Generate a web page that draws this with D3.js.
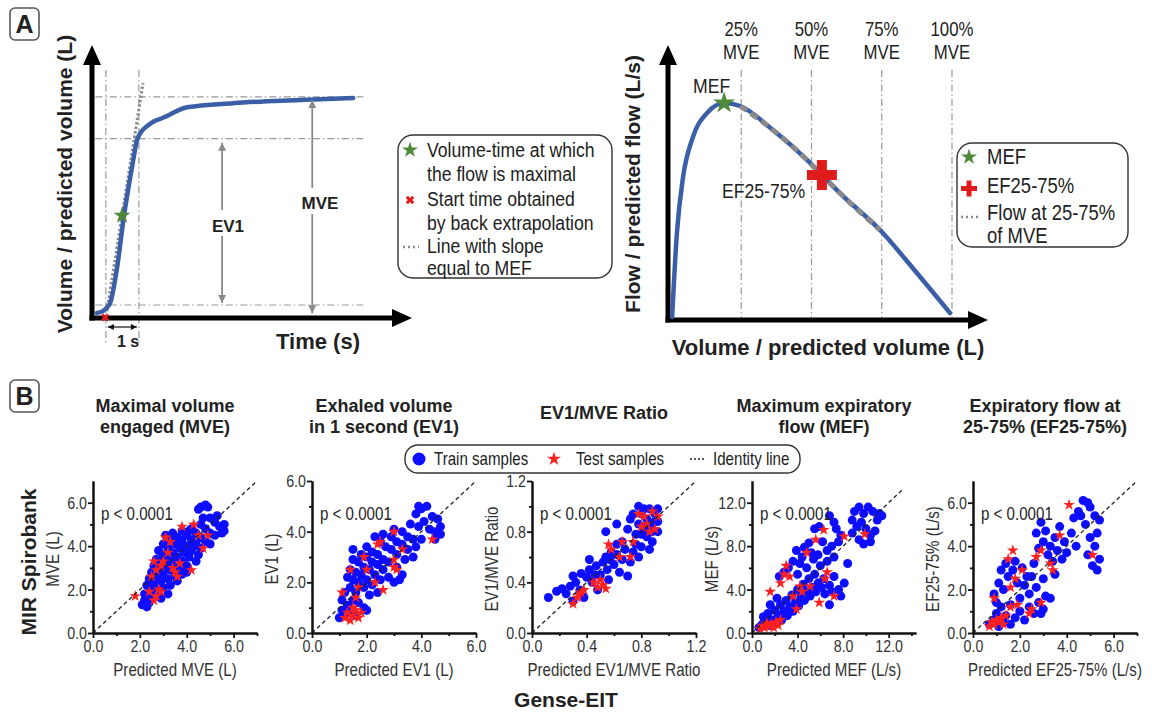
<!DOCTYPE html>
<html>
<head>
<meta charset="utf-8">
<script src="https://cdn.jsdelivr.net/npm/d3@7"></script>
<style>
  body { margin: 0; background: #fff; }
  svg { display: block; }
</style>
</head>
<body>
<svg id="fig" width="1152" height="714"></svg>
<script>
// ---------- Panel A data ----------
// volume-time curve: [time (s), volume / MVE]
const volumeTime = [
  [0.15, -0.038], [0.33, -0.029], [0.55, 0.01], [0.76, 0.18], [0.97, 0.43],
  [1.21, 0.66], [1.36, 0.79], [1.48, 0.83], [1.67, 0.86], [1.91, 0.885],
  [2.15, 0.90], [2.88, 0.95], [4.27, 0.97], [6.30, 0.985], [7.91, 0.995]
];
const slopeLine = [[0.45, -0.03], [1.545, 1.067]];
const refTimes = [0.42, 1.42];      // back-extrapolated start, start + 1 s
const refVolumes = [0, 0.8, 1.0];   // baseline, EV1, MVE
const ev1Arrow = { t: 3.94, from: 0.78, to: 0.01 };
const mveArrow = { t: 6.67, from: 0.985, to: -0.04 };
const maxFlowPoint = [0.91, 0.43];
const startPoint = [0.40, -0.06];

// flow-volume curve: [volume / MVE, flow / MEF]
const flowVolume = [
  [0.004, 0.005], [0.021, 0.395], [0.043, 0.656], [0.078, 0.842], [0.128, 0.953],
  [0.189, 1.0], [0.246, 0.986], [0.363, 0.874], [0.484, 0.735], [0.537, 0.665],
  [0.601, 0.581], [0.744, 0.409], [0.875, 0.209], [0.993, 0.023]
];
const mveFractions = [0.25, 0.5, 0.75, 1.0];
const mveFractionLabels = ["25%", "50%", "75%", "100%"];
const mefPoint = [0.189, 1.0];
const ef2575Point = [0.537, 0.665];

// ---------- Panel B data ----------
const panelTitles = [
  ["Maximal volume", "engaged (MVE)"],
  ["Exhaled volume", "in 1 second (EV1)"],
  ["EV1/MVE Ratio"],
  ["Maximum expiratory", "flow (MEF)"],
  ["Expiratory flow at", "25-75% (EF25-75%)"]
];
const yLabels = ["MVE (L)", "EV1 (L)", "EV1/MVE Ratio", "MEF (L/s)", "EF25-75% (L/s)"];
const xLabels = ["Predicted MVE (L)", "Predicted EV1 (L)", "Predicted EV1/MVE Ratio", "Predicted MEF (L/s)", "Predicted EF25-75% (L/s)"];
const axisMax = [[7, 7], [6, 6], [1.2, 1.2], [14.4, 14], [7, 7]];
const identityMax = [7, 6, 1.2, 13.2, 7];
const majorTicks = [[0, 2, 4, 6], [0, 2, 4, 6], [0, 0.4, 0.8, 1.2], [0, 4, 8, 12], [0, 2, 4, 6]];
const minorTicks = [[1, 3, 5, 7], [1, 3, 5], [0.2, 0.6, 1.0], [2, 6, 10, 14], [1, 3, 5, 7]];

const trainMVE = [
  [2.1,1.3],[2.2,1.5],[2.3,1.2],[2.2,1.8],[2.4,1.6],[2.5,2.0],[2.3,2.2],[2.6,1.7],[2.4,2.5],[2.6,2.3],
  [2.7,2.0],[2.8,1.8],[2.5,2.8],[2.7,2.6],[2.9,2.4],[3.0,2.1],[2.6,3.1],[2.8,3.0],[3.0,2.8],[3.2,2.5],
  [2.7,3.4],[2.9,3.3],[3.1,3.1],[3.3,2.9],[3.5,2.6],[2.8,3.8],[3.0,3.6],[3.2,3.4],[3.4,3.2],[3.6,3.0],
  [3.8,2.7],[3.0,4.1],[3.2,3.9],[3.4,3.7],[3.6,3.5],[3.8,3.3],[4.0,3.1],[3.1,4.5],[3.3,4.3],[3.5,4.1],
  [3.7,3.9],[3.9,3.7],[4.1,3.5],[4.4,3.3],[3.4,4.6],[3.6,4.4],[3.8,4.2],[4.0,4.0],[4.2,3.8],[4.5,3.6],
  [3.8,4.7],[4.0,4.5],[4.2,4.3],[4.4,4.1],[4.6,3.9],[4.2,4.8],[4.4,4.6],[4.6,4.4],[4.8,4.2],[5.0,4.1],
  [4.6,5.0],[4.8,4.8],[5.0,4.6],[5.2,4.5],[4.6,5.8],[4.8,5.9],[4.9,5.8],[4.5,5.7],[5.0,5.3],[5.2,5.1],
  [5.4,4.9],[5.5,4.6],[5.6,5.0],[5.3,5.4],[5.6,4.7],[4.7,5.3],[3.9,3.0],[3.3,2.2],[2.9,1.6],[3.2,1.8],
  [4.0,2.8],[3.6,2.4],[2.4,1.4],[2.5,1.9],[2.9,2.7],[3.3,3.5],[3.7,4.3],[4.1,4.7],[3.5,3.0],[4.3,4.0]
];
const testMVE = [
  [1.8,1.7],[2.4,1.9],[2.6,1.5],[2.7,1.7],[2.8,2.0],[2.9,1.9],[2.5,2.6],[2.7,2.9],[3.0,3.3],[2.6,3.3],
  [3.2,3.7],[3.4,3.0],[3.5,2.8],[3.6,2.6],[3.7,3.2],[3.3,4.2],[3.8,4.9],[4.3,5.0],[4.7,3.9],[4.9,4.5],
  [4.2,2.9],[3.1,4.4],[4.5,4.5],[2.9,3.1]
];
const trainEV1 = [
  [1.0,0.6],[1.1,0.9],[1.2,0.7],[1.3,1.1],[1.1,1.3],[1.4,0.9],[1.5,1.3],[1.2,1.6],[1.4,1.8],[1.6,1.6],
  [1.7,1.2],[1.9,1.0],[1.3,2.2],[1.5,2.1],[1.7,2.0],[1.9,1.8],[2.1,1.5],[1.4,2.5],[1.6,2.4],[1.8,2.3],
  [2.0,2.1],[2.2,1.9],[2.4,1.6],[1.5,2.9],[1.7,2.8],[1.9,2.6],[2.1,2.5],[2.3,2.3],[2.5,2.1],[1.5,3.3],
  [1.8,3.1],[2.0,3.0],[2.2,2.8],[2.4,2.7],[2.6,2.5],[2.8,2.2],[3.0,2.0],[2.0,3.4],[2.2,3.2],[2.4,3.1],
  [2.6,2.9],[2.8,2.8],[3.1,2.6],[3.3,2.3],[2.3,3.8],[2.5,3.6],[2.7,3.4],[2.9,3.3],[3.1,3.1],[3.4,2.9],
  [3.7,3.0],[2.6,3.9],[2.9,3.8],[3.1,3.6],[3.3,3.5],[3.5,3.3],[3.8,3.4],[3.0,4.1],[3.3,4.0],[3.5,3.8],
  [3.7,3.7],[4.0,3.7],[3.6,4.3],[3.9,4.2],[4.1,4.4],[4.3,4.1],[4.5,4.0],[4.7,4.2],[4.6,4.5],[4.4,4.6],
  [3.9,5.0],[4.0,4.9],[4.2,5.0],[3.8,4.7],[4.7,3.9],[4.5,3.7],[3.2,2.1],[2.0,0.9],[1.6,0.7]
];
const testEV1 = [
  [1.1,1.6],[1.2,0.6],[1.3,0.8],[1.4,0.5],[1.5,0.7],[1.6,0.9],[1.7,0.6],[1.8,0.8],[1.5,1.0],[1.4,2.5],
  [1.7,1.8],[2.0,2.5],[1.9,3.0],[2.4,3.5],[2.5,3.6],[3.0,2.6],[3.1,2.5],[3.0,2.9],[3.0,4.0],[4.4,3.7],
  [3.3,3.3],[2.3,2.0],[2.6,1.7],[1.6,1.4]
];
const trainRatio = [
  [0.12,0.28],[0.18,0.33],[0.22,0.35],[0.25,0.31],[0.28,0.37],[0.32,0.40],[0.35,0.34],[0.38,0.28],[0.30,0.45],[0.36,0.47],
  [0.40,0.44],[0.42,0.50],[0.44,0.40],[0.47,0.53],[0.50,0.46],[0.52,0.56],[0.55,0.50],[0.54,0.60],[0.57,0.58],[0.60,0.54],
  [0.58,0.64],[0.62,0.62],[0.64,0.48],[0.66,0.58],[0.68,0.66],[0.70,0.45],[0.72,0.56],[0.74,0.64],[0.76,0.70],[0.78,0.60],
  [0.80,0.68],[0.54,0.80],[0.62,0.86],[0.70,0.82],[0.72,0.90],[0.76,0.78],[0.78,0.86],[0.80,0.94],[0.82,0.82],[0.84,0.90],
  [0.86,0.98],[0.88,0.86],[0.90,0.94],[0.92,0.80],[0.92,0.98],[0.78,1.0],[0.84,0.76],[0.88,0.72],[0.90,0.88],[0.86,0.66],
  [0.82,0.98],[0.74,0.94],[0.66,0.72],[0.48,0.34],[0.42,0.58],[0.56,0.42],[0.62,0.70],[0.30,0.25],[0.46,0.46],[0.80,0.78],
  [0.92,0.88],[0.88,0.80],[0.84,0.84]
];
const testRatio = [
  [0.30,0.23],[0.33,0.28],[0.36,0.32],[0.38,0.34],[0.34,0.30],[0.45,0.40],[0.48,0.36],[0.52,0.38],[0.54,0.35],[0.50,0.42],
  [0.58,0.66],[0.64,0.60],[0.66,0.72],[0.74,0.72],[0.78,0.94],[0.82,0.92],[0.84,0.86],[0.86,0.80],[0.90,0.82],[0.88,0.96],
  [0.80,0.84],[0.56,0.70],[0.92,0.92],[0.72,0.60]
];
const trainMEF = [
  [0.6,0.5],[0.9,0.8],[1.2,1.1],[1.0,1.5],[1.5,0.7],[1.8,1.2],[1.4,1.8],[2.1,0.9],[2.3,1.6],[2.0,2.1],
  [2.6,1.2],[2.8,2.0],[2.5,2.6],[3.1,1.6],[3.3,2.4],[3.0,3.0],[3.6,2.0],[3.8,2.8],[3.5,3.5],[4.1,2.5],
  [4.3,3.3],[4.0,4.0],[4.6,3.0],[4.8,3.8],[4.5,4.5],[5.1,3.4],[5.3,4.2],[5.0,5.0],[5.6,3.8],[5.8,4.6],
  [5.5,5.4],[6.1,4.2],[6.4,3.6],[6.3,5.0],[6.8,4.4],[7.0,3.8],[7.2,5.2],[7.6,4.0],[8.1,4.6],[7.8,3.4],
  [6.8,2.6],[2.4,5.2],[2.8,5.6],[3.2,6.0],[3.6,6.6],[4.0,5.4],[4.2,6.4],[4.4,7.0],[3.9,7.6],[4.6,7.9],
  [5.0,8.3],[4.8,6.0],[5.4,6.8],[5.2,7.4],[5.8,7.2],[5.5,9.6],[5.9,9.8],[6.2,8.4],[6.6,7.6],[6.8,10.8],
  [7.2,10.2],[7.4,9.6],[7.8,9.0],[7.0,8.0],[6.0,6.2],[6.6,6.6],[7.2,7.0],[7.6,8.4],[8.8,10.4],[9.0,11.2],
  [9.4,11.6],[9.8,11.0],[10.2,11.6],[10.6,11.2],[11.2,11.0],[11.0,10.4],[9.2,9.8],[9.6,10.2],[10.0,9.6],[10.4,9.0],
  [10.8,9.4],[9.4,8.6],[9.8,8.2],[10.4,8.4],[8.8,9.2],[11.4,10.8],[1.6,2.6],[2.2,3.2],[8.4,6.4]
];
const testMEF = [
  [0.7,0.4],[0.9,0.6],[1.1,0.5],[1.3,0.9],[1.5,0.6],[1.7,0.8],[1.9,0.5],[2.1,1.0],[2.3,0.7],[2.5,1.2],
  [1.6,3.8],[2.5,4.6],[2.8,5.4],[3.0,6.2],[3.3,5.2],[3.6,3.4],[4.2,4.3],[4.8,7.4],[5.1,4.3],[5.6,8.6],
  [5.9,2.8],[6.3,9.5],[6.4,5.0],[6.6,5.6],[7.2,3.4],[8.1,8.9],[9.9,9.1],[3.9,2.2],[4.4,3.8]
];
const trainEF = [
  [0.7,0.4],[0.9,0.6],[1.1,0.3],[1.0,0.9],[1.3,0.5],[1.4,0.8],[1.6,0.4],[1.2,1.2],[1.8,0.7],[2.0,1.0],
  [1.6,1.3],[2.2,0.6],[2.4,1.2],[2.0,1.6],[2.6,0.9],[2.8,1.4],[2.4,1.8],[3.0,1.1],[3.1,1.7],[2.7,2.1],
  [3.3,1.6],[2.2,2.2],[0.9,1.8],[1.1,2.3],[1.3,2.0],[1.5,2.6],[1.7,2.9],[1.2,2.9],[1.9,2.3],[1.8,3.3],
  [2.1,3.0],[1.4,3.2],[2.3,2.6],[2.6,3.2],[2.8,3.9],[2.7,4.6],[2.9,5.1],[3.0,4.2],[3.2,3.6],[3.1,4.7],
  [3.3,4.0],[3.4,3.3],[3.5,4.4],[3.6,3.8],[3.7,4.9],[3.8,3.4],[3.9,4.2],[4.0,3.7],[3.5,2.7],[4.2,4.6],
  [4.3,5.3],[4.5,5.6],[4.7,6.1],[4.9,6.0],[4.6,5.4],[5.0,5.8],[5.2,5.4],[5.4,5.2],[5.0,4.4],[5.2,4.0],
  [5.4,3.4],[5.1,3.1],[5.3,2.9],[4.9,3.6],[5.3,4.6],[4.8,5.0],[4.4,4.0],[3.0,2.5],[2.5,2.6],[1.0,1.4],
  [2.9,0.9]
];
const testEF = [
  [0.7,0.3],[0.8,0.5],[0.9,0.4],[1.0,0.6],[1.1,0.5],[1.2,0.7],[1.3,0.4],[1.4,0.8],[0.9,1.6],[1.6,1.2],
  [1.9,1.3],[2.4,0.9],[2.9,1.4],[1.6,2.1],[1.8,2.5],[1.5,3.4],[1.7,3.8],[2.1,2.9],[2.7,3.5],[2.9,3.8],
  [3.3,3.2],[3.4,2.9],[3.7,4.5],[4.1,5.9],[5.1,3.6],[2.5,1.1]
];
const trainSets = [trainMVE, trainEV1, trainRatio, trainMEF, trainEF];
const testSets = [testMVE, testEV1, testRatio, testMEF, testEF];

// ---------- styles ----------
// no narrow font installed: squeeze Liberation Sans horizontally instead
const SANS = "'Liberation Sans',Arial,sans-serif";
const SQUEEZE = 0.84;
const CURVE = "#3a5fa6";
const GREEN = "#4e8a3a";
const RED = "#e01b1b";
const GREY = "#999";

const svg = d3.select("#fig");
const defs = svg.append("defs");
function arrowMarker(id, color, w, h) {
  defs.append("marker").attr("id", id)
    .attr("viewBox", "0 0 10 10").attr("refX", 10).attr("refY", 5)
    .attr("markerUnits", "userSpaceOnUse")
    .attr("markerWidth", w).attr("markerHeight", h)
    .attr("orient", "auto-start-reverse")
    .append("path").attr("d", "M0,0L10,5L0,10z").attr("fill", color);
}
arrowMarker("ahGrey", "#8a8a8a", 9, 8);
arrowMarker("ahBlack", "#111", 7, 6);

// text helper: narrow (squeezed) unless bold
function text(g, x, y, str, opt = {}) {
  const sx = opt.weight === "bold" ? 1 : SQUEEZE;
  const rot = opt.rotate ? ` rotate(${opt.rotate})` : "";
  return g.append("text")
    .attr("transform", `translate(${x},${y})${rot} scale(${sx},1)`)
    .attr("font-family", SANS)
    .attr("font-size", opt.size || 21)
    .attr("font-weight", opt.weight || "normal")
    .attr("text-anchor", opt.anchor || "start")
    .attr("fill", opt.fill || "#222")
    .text(str);
}
function panelLetter(x, y, letter) {
  svg.append("rect").attr("x", x).attr("y", y).attr("width", 29).attr("height", 32).attr("rx", 5)
    .attr("fill", "#fff").attr("stroke", "#555").attr("stroke-width", 1.6);
  text(svg, x + 14.5, y + 25, letter, { weight: "bold", size: 25, anchor: "middle" });
}
function bigAxes(g, x0, y0, xEnd, yEnd) {
  g.append("line").attr("x1", x0).attr("y1", y0 + 2.5).attr("x2", x0).attr("y2", yEnd + 18)
    .attr("stroke", "#000").attr("stroke-width", 5);
  g.append("path").attr("d", `M${x0 - 9},${yEnd + 20}L${x0},${yEnd}L${x0 + 9},${yEnd + 20}Z`).attr("fill", "#000");
  g.append("line").attr("x1", x0 - 2.5).attr("y1", y0).attr("x2", xEnd - 18).attr("y2", y0)
    .attr("stroke", "#000").attr("stroke-width", 5);
  g.append("path").attr("d", `M${xEnd - 20},${y0 - 9}L${xEnd},${y0}L${xEnd - 20},${y0 + 9}Z`).attr("fill", "#000");
}

// ================= PANEL A, left: volume-time =================
panelLetter(10, 8, "A");
const gA1 = svg.append("g");
const tx = d3.scaleLinear().domain([0, 9.6]).range([92, 409]);
const vy = d3.scaleLinear().domain([-0.0625, 1.24]).range([318, 47]);

// dash-dot reference lines
refVolumes.forEach(v => gA1.append("line")
  .attr("x1", tx(0.1)).attr("x2", tx(8.3)).attr("y1", vy(v)).attr("y2", vy(v))
  .attr("stroke", GREY).attr("stroke-width", 1.2).attr("stroke-dasharray", "7,3,1.5,3"));
refTimes.forEach(t => gA1.append("line")
  .attr("x1", tx(t)).attr("x2", tx(t)).attr("y1", vy(1.13)).attr("y2", vy(-0.18))
  .attr("stroke", GREY).attr("stroke-width", 1.2).attr("stroke-dasharray", "7,3,1.5,3"));

bigAxes(gA1, 92, 318, 412, 45);

// slope line (under the curve)
gA1.append("path").datum(slopeLine)
  .attr("d", d3.line().x(d => tx(d[0])).y(d => vy(d[1])))
  .attr("stroke", "#8c8c8c").attr("stroke-width", 3).attr("stroke-dasharray", "2.5,2").attr("fill", "none");
// curve
gA1.append("path").datum(volumeTime)
  .attr("d", d3.line().x(d => tx(d[0])).y(d => vy(d[1])).curve(d3.curveMonotoneX))
  .attr("fill", "none").attr("stroke", CURVE).attr("stroke-width", 4.5).attr("stroke-linecap", "round");

// EV1 and MVE arrows
[ev1Arrow, mveArrow].forEach(a => {
  gA1.append("line").attr("x1", tx(a.t)).attr("x2", tx(a.t)).attr("y1", vy(a.from)).attr("y2", vy(a.to))
    .attr("stroke", "#8a8a8a").attr("stroke-width", 1.8)
    .attr("marker-start", "url(#ahGrey)").attr("marker-end", "url(#ahGrey)");
});
gA1.append("rect").attr("x", 206).attr("y", 210).attr("width", 42).attr("height", 26).attr("fill", "#fff");
text(gA1, 228, 232, "EV1", { weight: "bold", size: 17, anchor: "middle" });
gA1.append("rect").attr("x", 296).attr("y", 188).attr("width", 48).attr("height", 26).attr("fill", "#fff");
text(gA1, 320, 209, "MVE", { weight: "bold", size: 17, anchor: "middle" });

// 1 s arrow
gA1.append("line").attr("x1", tx(refTimes[0]) + 2).attr("x2", tx(refTimes[1]) - 2)
  .attr("y1", 327).attr("y2", 327).attr("stroke", "#111").attr("stroke-width", 1.2)
  .attr("marker-start", "url(#ahBlack)").attr("marker-end", "url(#ahBlack)");
text(gA1, 128, 347, "1 s", { weight: "bold", size: 16, anchor: "middle" });

// markers
gA1.append("path").attr("transform", `translate(${tx(maxFlowPoint[0])},${vy(maxFlowPoint[1])})`)
  .attr("d", d3.symbol(d3.symbolStar, 90)()).attr("fill", GREEN);
gA1.append("path").attr("transform", `translate(${tx(startPoint[0])},${vy(startPoint[1])}) rotate(45)`)
  .attr("d", d3.symbol(d3.symbolCross, 40)()).attr("fill", RED);

// axis labels
text(gA1, 72, 184, "Volume / predicted volume (L)", { weight: "bold", size: 21, anchor: "middle", rotate: -90 });
text(gA1, 318, 349, "Time (s)", { weight: "bold", size: 22, anchor: "middle" });

// legend left
const lg1 = svg.append("g");
lg1.append("rect").attr("x", 398).attr("y", 135).attr("width", 214).attr("height", 143).attr("rx", 15)
  .attr("fill", "#fff").attr("stroke", "#333").attr("stroke-width", 1.4);
const leg1Lines = [
  ["Volume-time at which", 157], ["the flow is maximal", 181], ["Start time obtained", 206],
  ["by back extrapolation", 230], ["Line with slope", 253], ["equal to MEF", 275]
];
leg1Lines.forEach(([s, y]) => text(lg1, 427, y, s, { size: 21 }));
lg1.append("path").attr("transform", "translate(410,150)").attr("d", d3.symbol(d3.symbolStar, 80)()).attr("fill", GREEN);
lg1.append("path").attr("transform", "translate(410,200) rotate(45)").attr("d", d3.symbol(d3.symbolCross, 45)()).attr("fill", RED);
lg1.append("line").attr("x1", 403).attr("x2", 419).attr("y1", 247).attr("y2", 247)
  .attr("stroke", "#8c8c8c").attr("stroke-width", 2.4).attr("stroke-dasharray", "2,3");

// ================= PANEL A, right: flow-volume =================
const gA2 = svg.append("g");
const fx = d3.scaleLinear().domain([0, 1]).range([671, 952]);
const qy = d3.scaleLinear().domain([0, 1]).range([318, 103]);

mveFractions.forEach((f, i) => {
  gA2.append("line").attr("x1", fx(f)).attr("x2", fx(f)).attr("y1", 70).attr("y2", 318)
    .attr("stroke", GREY).attr("stroke-width", 1.2).attr("stroke-dasharray", "7,3,1.5,3");
  text(gA2, fx(f), 36, mveFractionLabels[i], { anchor: "middle", size: 20 });
  text(gA2, fx(f), 59, "MVE", { anchor: "middle", size: 20 });
});

bigAxes(gA2, 668, 320, 988, 45);

const flowLine = d3.line().x(d => fx(d[0])).y(d => qy(d[1])).curve(d3.curveMonotoneX);
gA2.append("path").datum(flowVolume).attr("d", flowLine)
  .attr("fill", "none").attr("stroke", CURVE).attr("stroke-width", 4.5).attr("stroke-linecap", "round");
gA2.append("path").datum(flowVolume.filter(d => d[0] >= 0.246 && d[0] <= 0.744)).attr("d", flowLine)
  .attr("fill", "none").attr("stroke", "#8a8a8a").attr("stroke-width", 5).attr("stroke-dasharray", "8,5");

gA2.append("path").attr("transform", `translate(${fx(mefPoint[0])},${qy(mefPoint[1])})`)
  .attr("d", d3.symbol(d3.symbolStar, 150)()).attr("fill", GREEN);
const cx = fx(ef2575Point[0]), cy = qy(ef2575Point[1]);
gA2.append("rect").attr("x", cx - 15).attr("y", cy - 5).attr("width", 30).attr("height", 10).attr("fill", RED);
gA2.append("rect").attr("x", cx - 5).attr("y", cy - 15).attr("width", 10).attr("height", 30).attr("fill", RED);

text(gA2, 693, 93, "MEF", { size: 21 });
text(gA2, 722, 198, "EF25-75%", { size: 21 });

text(gA2, 640, 184, "Flow / predicted flow (L/s)", { weight: "bold", size: 21, anchor: "middle", rotate: -90 });
text(gA2, 828, 355, "Volume / predicted volume (L)", { weight: "bold", size: 22, anchor: "middle" });

// legend right
const lg2 = svg.append("g");
lg2.append("rect").attr("x", 957).attr("y", 143).attr("width", 171).attr("height", 104).attr("rx", 15)
  .attr("fill", "#fff").attr("stroke", "#333").attr("stroke-width", 1.4);
[["MEF", 164], ["EF25-75%", 193], ["Flow at 25-75%", 220], ["of MVE", 243]]
  .forEach(([s, y]) => text(lg2, 987, y, s, { size: 22 }));
lg2.append("path").attr("transform", "translate(969,157)").attr("d", d3.symbol(d3.symbolStar, 80)()).attr("fill", GREEN);
lg2.append("rect").attr("x", 961).attr("y", 186).attr("width", 16).attr("height", 5).attr("fill", RED);
lg2.append("rect").attr("x", 966.5).attr("y", 180.5).attr("width", 5).attr("height", 16).attr("fill", RED);
lg2.append("line").attr("x1", 961).attr("x2", 979).attr("y1", 217).attr("y2", 217)
  .attr("stroke", "#8c8c8c").attr("stroke-width", 2.4).attr("stroke-dasharray", "2,3");

// ================= PANEL B =================
panelLetter(10, 380, "B");
const plotLefts = [93, 312, 532, 752, 973];
const plotW = 164, plotBottom = 633, plotTop = 481;

panelTitles.forEach((lines, i) => {
  const cxT = plotLefts[i] + 72;
  const y0 = lines.length === 1 ? 419 : 412;
  lines.forEach((s, k) => text(svg, cxT, y0 + k * 21, s, { weight: "bold", size: 18, anchor: "middle" }));
});

plotLefts.forEach((left, i) => {
  const g = svg.append("g");
  const x = d3.scaleLinear().domain([0, axisMax[i][0]]).range([left, left + plotW]);
  const y = d3.scaleLinear().domain([0, axisMax[i][1]]).range([plotBottom, plotTop]);

  g.selectAll("circle.train").data(trainSets[i]).join("circle").attr("class", "train")
    .attr("cx", d => x(d[0])).attr("cy", d => y(d[1])).attr("r", 4.5).attr("fill", "#0d0dff");
  g.selectAll("path.test").data(testSets[i]).join("path").attr("class", "test")
    .attr("transform", d => `translate(${x(d[0])},${y(d[1])})`)
    .attr("d", d3.symbol(d3.symbolStar, 42)()).attr("fill", "#ff2020");
  g.append("line").attr("x1", x(0)).attr("y1", y(0)).attr("x2", x(identityMax[i])).attr("y2", y(identityMax[i]))
    .attr("stroke", "#222").attr("stroke-width", 1.3).attr("stroke-dasharray", "4,3");

  const fmt = d3.format(".1f");
  const styleAxis = sel => {
    sel.select(".domain").attr("stroke", "#111").attr("stroke-width", 2);
    sel.selectAll(".tick line").attr("stroke", "#111").attr("stroke-width", 1.8);
    sel.selectAll(".tick text").attr("font-family", SANS).attr("font-size", 17).attr("fill", "#333")
      .attr("transform", `scale(${SQUEEZE},1)`);
  };
  g.append("g").attr("transform", `translate(0,${plotBottom})`)
    .call(d3.axisBottom(x).tickValues(minorTicks[i]).tickFormat("").tickSize(3).tickSizeOuter(0)).call(styleAxis);
  g.append("g").attr("transform", `translate(0,${plotBottom})`)
    .call(d3.axisBottom(x).tickValues(majorTicks[i]).tickFormat(fmt).tickSize(5).tickSizeOuter(0).tickPadding(2)).call(styleAxis);
  g.append("g").attr("transform", `translate(${left},0)`)
    .call(d3.axisLeft(y).tickValues(minorTicks[i].filter(v => v < axisMax[i][1])).tickFormat("").tickSize(3).tickSizeOuter(0)).call(styleAxis);
  g.append("g").attr("transform", `translate(${left},0)`)
    .call(d3.axisLeft(y).tickValues(majorTicks[i]).tickFormat(fmt).tickSize(5).tickSizeOuter(0).tickPadding(1)).call(styleAxis);
  // keep squeezed y tick labels right next to the axis
  g.selectAll(".tick text").each(function () {
    const t = d3.select(this);
    if (+t.attr("x") || 0) t.attr("x", +t.attr("x") / SQUEEZE);
  });

  text(g, left + 8, 520, "p < 0.0001", { size: 18 });
  text(g, left + plotW / 2, 676, xLabels[i], { size: 18, anchor: "middle", fill: "#333" });
  text(g, left - 34, (plotBottom + plotTop) / 2 + 2, yLabels[i], { size: 18, anchor: "middle", fill: "#333", rotate: -90 });
});

// shared legend
const lg3 = svg.append("g");
lg3.append("rect").attr("x", 405).attr("y", 445).attr("width", 395).attr("height", 28).attr("rx", 13)
  .attr("fill", "#fff").attr("stroke", "#333").attr("stroke-width", 1.4);
lg3.append("circle").attr("cx", 419).attr("cy", 459).attr("r", 6.5).attr("fill", "#0d0dff");
text(lg3, 434, 465, "Train samples", { size: 18 });
lg3.append("path").attr("transform", "translate(554,459)").attr("d", d3.symbol(d3.symbolStar, 60)()).attr("fill", "#ff2020");
text(lg3, 576, 465, "Test samples", { size: 18 });
lg3.append("line").attr("x1", 690).attr("x2", 706).attr("y1", 459).attr("y2", 459)
  .attr("stroke", "#222").attr("stroke-width", 1.3).attr("stroke-dasharray", "2,2");
text(lg3, 713, 465, "Identity line", { size: 18 });

// shared axis titles
text(svg, 36, 562, "MIR Spirobank", { weight: "bold", size: 21, anchor: "middle", rotate: -90 });
text(svg, 566, 707, "Gense-EIT", { weight: "bold", size: 21, anchor: "middle" });
</script>
</body>
</html>
